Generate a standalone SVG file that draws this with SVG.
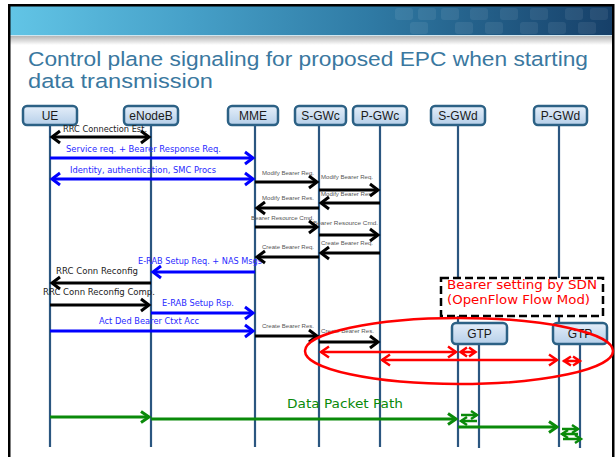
<svg xmlns="http://www.w3.org/2000/svg" width="616" height="457" viewBox="0 0 616 457">
<defs>
<linearGradient id="hdr" x1="0" y1="0" x2="1" y2="0">
<stop offset="0" stop-color="#62c5e6"/>
<stop offset="0.3" stop-color="#46a0c8"/>
<stop offset="0.6" stop-color="#2f7aa4"/>
<stop offset="1" stop-color="#163f68"/>
</linearGradient>
<linearGradient id="shadow" x1="0" y1="0" x2="0" y2="1">
<stop offset="0" stop-color="#b5b5b5"/>
<stop offset="1" stop-color="#ffffff"/>
</linearGradient>
<linearGradient id="nodeGrad" x1="0" y1="0" x2="0" y2="1">
<stop offset="0" stop-color="#e4eef9"/>
<stop offset="1" stop-color="#b6cfe9"/>
</linearGradient>
<marker id="ak" markerUnits="userSpaceOnUse" viewBox="0 0 16 16" markerWidth="16" markerHeight="16" refX="11" refY="8" orient="auto-start-reverse">
<path d="M3,2 L11,8 L3,14" fill="none" stroke="#000" stroke-width="3"/>
</marker>
<marker id="ab" markerUnits="userSpaceOnUse" viewBox="0 0 16 16" markerWidth="16" markerHeight="16" refX="11" refY="8" orient="auto-start-reverse">
<path d="M3,2 L11,8 L3,14" fill="none" stroke="#0000ff" stroke-width="3"/>
</marker>
<marker id="ar" markerUnits="userSpaceOnUse" viewBox="0 0 16 16" markerWidth="16" markerHeight="16" refX="11" refY="8" orient="auto-start-reverse">
<path d="M3,2.5 L11,8 L3,13.5" fill="none" stroke="#ff0000" stroke-width="2.5"/>
</marker>
<marker id="ag" markerUnits="userSpaceOnUse" viewBox="0 0 16 16" markerWidth="16" markerHeight="16" refX="11" refY="8" orient="auto-start-reverse">
<path d="M3,2.5 L11,8 L3,13.5" fill="none" stroke="#0a8a0a" stroke-width="3"/>
</marker>
<marker id="ags" markerUnits="userSpaceOnUse" viewBox="0 0 12 12" markerWidth="12" markerHeight="12" refX="9" refY="6" orient="auto-start-reverse">
<path d="M3,2 L9,6 L3,10" fill="none" stroke="#0a8a0a" stroke-width="2.5"/>
</marker>
</defs>
<style>
.node rect{fill:url(#nodeGrad);stroke:#2c6185;stroke-width:2.5}
.node text{font-family:"Liberation Sans",Arial,sans-serif;font-size:12px;fill:#1a1a1a;text-anchor:middle}
.life{stroke:#2b5680;stroke-width:2.2}
.lbl{font-family:"DejaVu Sans","Liberation Sans",sans-serif;font-size:8.5px}
.lk{fill:#222}
.lb{fill:#2a2aff}
.sm{font-family:"Liberation Sans",Arial,sans-serif;font-size:5.5px;fill:#555}
.ck{stroke:#000;stroke-width:3;fill:none}
.cb{stroke:#0000ff;stroke-width:3;fill:none}
.cr{stroke:#ff0000;stroke-width:2.5;fill:none}
.cg{stroke:#0a8a0a;stroke-width:3;fill:none}
.cgs{stroke:#0a8a0a;stroke-width:2.5;fill:none}
</style>

<!-- slide background and header -->
<rect x="0" y="0" width="616" height="457" fill="#ffffff"/>
<rect x="9" y="5" width="604" height="31" fill="url(#hdr)"/>
<g fill="#ffffff" opacity="0.07">
<rect x="395" y="8" width="18" height="12" rx="3"/><rect x="418" y="8" width="18" height="12" rx="3"/><rect x="441" y="8" width="18" height="12" rx="3"/><rect x="470" y="8" width="18" height="12" rx="3"/><rect x="500" y="8" width="18" height="12" rx="3"/><rect x="530" y="8" width="18" height="12" rx="3"/><rect x="565" y="8" width="18" height="12" rx="3"/><rect x="590" y="8" width="18" height="12" rx="3"/>
<rect x="410" y="22" width="18" height="12" rx="3"/><rect x="455" y="22" width="18" height="12" rx="3"/><rect x="485" y="22" width="18" height="12" rx="3"/><rect x="520" y="22" width="18" height="12" rx="3"/><rect x="548" y="22" width="18" height="12" rx="3"/><rect x="578" y="22" width="18" height="12" rx="3"/>
</g>
<rect x="9" y="35" width="604" height="1" fill="#cfe6f0"/>
<rect x="9" y="36" width="604" height="9" fill="url(#shadow)"/>
<rect x="9.25" y="5.25" width="604" height="470" fill="none" stroke="#000" stroke-width="2.5"/>

<g id="title" font-family="'Liberation Sans',Arial,sans-serif" font-size="20.5" fill="#3a78a0">
<text x="28" y="66" textLength="560" lengthAdjust="spacingAndGlyphs">Control plane signaling for proposed EPC when starting</text>
<text x="28" y="88" textLength="185" lengthAdjust="spacingAndGlyphs">data transmission</text>
</g>

<!-- lifelines -->
<g id="lifelines">
<line class="life" x1="50" y1="125" x2="50" y2="447"/>
<line class="life" x1="151" y1="125" x2="151" y2="447"/>
<line class="life" x1="255" y1="125" x2="255" y2="447"/>
<line class="life" x1="319" y1="125" x2="319" y2="447"/>
<line class="life" x1="380" y1="125" x2="380" y2="447"/>
<line class="life" x1="458" y1="125" x2="458" y2="447"/>
<line class="life" x1="559" y1="125" x2="559" y2="447"/>
<line class="life" x1="479" y1="344" x2="479" y2="448"/>
<line class="life" x1="580" y1="344" x2="580" y2="448"/>
</g>

<g id="UE" class="node"><rect x="23" y="106" width="54" height="19" rx="4"/><text x="50" y="119.5">UE</text></g>
<g id="eNodeB" class="node"><rect x="124" y="106" width="54" height="19" rx="4"/><text x="151" y="119.5">eNodeB</text></g>
<g id="MME" class="node"><rect x="228" y="106" width="50" height="19" rx="4"/><text x="253" y="119.5">MME</text></g>
<g id="S-GWc" class="node"><rect x="295" y="106" width="51" height="19" rx="4"/><text x="320.5" y="119.5">S-GWc</text></g>
<g id="P-GWc" class="node"><rect x="353" y="106" width="54" height="19" rx="4"/><text x="380" y="119.5">P-GWc</text></g>
<g id="S-GWd" class="node"><rect x="431" y="106" width="54" height="19" rx="4"/><text x="458" y="119.5">S-GWd</text></g>
<g id="P-GWd" class="node"><rect x="534" y="106" width="53" height="19" rx="4"/><text x="560.5" y="119.5">P-GWd</text></g>

<g id="sdn-note">
<rect x="441" y="278" width="162" height="38" fill="#ffffff" stroke="#000" stroke-width="2.5" stroke-dasharray="8 4"/>
<text x="447" y="289" font-family="'DejaVu Sans',sans-serif" font-size="12" fill="#ff0000" textLength="150" lengthAdjust="spacingAndGlyphs">Bearer setting  by SDN</text>
<text x="447" y="304" font-family="'DejaVu Sans',sans-serif" font-size="12" fill="#ff0000" textLength="143" lengthAdjust="spacingAndGlyphs">(OpenFlow  Flow Mod)</text>
</g>

<g id="GTP-1" class="node"><rect x="452" y="323" width="55" height="21" rx="4"/><text x="479.5" y="337.5">GTP</text></g>
<g id="GTP-2" class="node"><rect x="553" y="323" width="54" height="21" rx="4"/><text x="580" y="337.5">GTP</text></g>

<!-- message labels -->
<g id="labels">
<text class="lbl lk" x="63" y="132" textLength="84" lengthAdjust="spacingAndGlyphs">RRC  Connection Est.</text>
<text class="lbl lb" x="66" y="152" textLength="155" lengthAdjust="spacingAndGlyphs">Service req. + Bearer  Response  Req.</text>
<text class="lbl lb" x="70" y="173" textLength="146" lengthAdjust="spacingAndGlyphs">Identity, authentication, SMC Procs</text>
<text class="sm" x="262" y="175" textLength="52" lengthAdjust="spacingAndGlyphs">Modify Bearer  Req.</text>
<text class="sm" x="321" y="179" textLength="52" lengthAdjust="spacingAndGlyphs">Modify Bearer  Req.</text>
<text class="sm" x="321" y="196" textLength="52" lengthAdjust="spacingAndGlyphs">Modify Bearer  Res.</text>
<text class="sm" x="262" y="200" textLength="52" lengthAdjust="spacingAndGlyphs">Modify Bearer  Res.</text>
<text class="sm" x="251" y="220" textLength="63" lengthAdjust="spacingAndGlyphs">Bearer  Resource  Cmd.</text>
<text class="sm" x="313" y="225" textLength="65" lengthAdjust="spacingAndGlyphs">Bearer  Resource  Cmd.</text>
<text class="sm" x="321" y="245" textLength="52" lengthAdjust="spacingAndGlyphs">Create  Bearer  Req.</text>
<text class="sm" x="262" y="249" textLength="52" lengthAdjust="spacingAndGlyphs">Create  Bearer  Req.</text>
<text class="lbl lb" x="138" y="264" textLength="124" lengthAdjust="spacingAndGlyphs">E-RAB  Setup Req. +  NAS Msgs</text>
<text class="lbl lk" x="56" y="274" textLength="82" lengthAdjust="spacingAndGlyphs">RRC  Conn Reconfig</text>
<text class="lbl lk" x="43" y="295" textLength="112" lengthAdjust="spacingAndGlyphs">RRC  Conn Reconfig Comp.</text>
<text class="lbl lb" x="162" y="306" textLength="72" lengthAdjust="spacingAndGlyphs">E-RAB  Setup Rsp.</text>
<text class="lbl lb" x="99" y="324" textLength="100" lengthAdjust="spacingAndGlyphs">Act Ded Bearer  Ctxt Acc</text>
<text class="sm" x="262" y="328" textLength="52" lengthAdjust="spacingAndGlyphs">Create  Bearer  Res.</text>
<text class="sm" x="321" y="333" textLength="53" lengthAdjust="spacingAndGlyphs">Create  Bearer  Res.</text>
<text x="287" y="408" font-family="'DejaVu Sans',sans-serif" font-size="12.5" fill="#0a8a0a" textLength="116" lengthAdjust="spacingAndGlyphs">Data Packet Path</text>
</g>

<g id="connectors">
<line class="ck" x1="52" y1="137" x2="149" y2="137" marker-start="url(#ak)" marker-end="url(#ak)"/>
<line class="cb" x1="50" y1="158" x2="253" y2="158" marker-end="url(#ab)"/>
<line class="cb" x1="52" y1="179" x2="253" y2="179" marker-start="url(#ab)" marker-end="url(#ab)"/>
<line class="ck" x1="255" y1="182" x2="317" y2="182" marker-end="url(#ak)"/>
<line class="ck" x1="319" y1="190" x2="378" y2="190" marker-end="url(#ak)"/>
<line class="ck" x1="380" y1="203" x2="321" y2="203" marker-end="url(#ak)"/>
<line class="ck" x1="319" y1="208" x2="257" y2="208" marker-end="url(#ak)"/>
<line class="ck" x1="255" y1="227" x2="317" y2="227" marker-end="url(#ak)"/>
<line class="ck" x1="319" y1="235" x2="378" y2="235" marker-end="url(#ak)"/>
<line class="ck" x1="380" y1="253" x2="321" y2="253" marker-end="url(#ak)"/>
<line class="ck" x1="319" y1="257" x2="257" y2="257" marker-end="url(#ak)"/>
<line class="cb" x1="255" y1="272" x2="153" y2="272" marker-end="url(#ab)"/>
<line class="ck" x1="151" y1="283" x2="52" y2="283" marker-end="url(#ak)"/>
<line class="ck" x1="50" y1="305" x2="149" y2="305" marker-end="url(#ak)"/>
<line class="cb" x1="151" y1="313" x2="253" y2="313" marker-end="url(#ab)"/>
<line class="cb" x1="50" y1="331" x2="253" y2="331" marker-end="url(#ab)"/>
<line class="ck" x1="255" y1="336" x2="317" y2="336" marker-end="url(#ak)"/>
<line class="ck" x1="319" y1="342" x2="378" y2="342" marker-end="url(#ak)"/>

<line class="cr" x1="321" y1="352" x2="456" y2="352" marker-start="url(#ar)" marker-end="url(#ar)"/>
<line class="cr" x1="382" y1="360" x2="557" y2="360" marker-start="url(#ar)" marker-end="url(#ar)"/>
<path class="cr" d="M460,352 H476 M467,347.5 L460.5,352 L467,356.5 M469,347.5 L475.5,352 L469,356.5"/>
<path class="cr" d="M563,361 H581 M571,356.5 L564,361 L571,365.5 M573,356.5 L580,361 L573,365.5"/>
<ellipse cx="459" cy="351" rx="154" ry="33" fill="none" stroke="#ff0000" stroke-width="2.5"/>

<line class="cg" x1="50" y1="417" x2="149" y2="417" marker-end="url(#ag)"/>
<line class="cg" x1="151" y1="419" x2="456" y2="419" marker-end="url(#ag)"/>
<line class="cgs" x1="461" y1="415" x2="477" y2="415" marker-end="url(#ags)"/>
<line class="cgs" x1="477" y1="421" x2="461" y2="421" marker-end="url(#ags)"/>
<line class="cg" x1="458" y1="427" x2="557" y2="427" marker-end="url(#ag)"/>
<line class="cgs" x1="562" y1="429" x2="578" y2="429" marker-end="url(#ags)"/>
<line class="cgs" x1="578" y1="434" x2="562" y2="434" marker-end="url(#ags)"/>
<line class="cgs" x1="563" y1="439" x2="581" y2="439" marker-end="url(#ags)"/>
</g>
</svg>
